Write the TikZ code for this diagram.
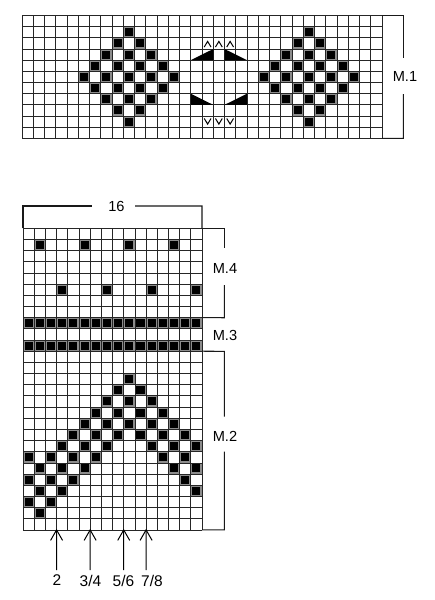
\documentclass[tikz,border=0pt]{standalone}
\usepackage{fontspec}
\setmainfont{Liberation Sans}
\begin{document}
\begin{tikzpicture}[x=1pt,y=-1pt,
  gridline/.style={line width=0.75pt, draw=black!85},
  brk/.style={line width=1.1pt, draw=black!90},
  mlabel/.style={font=\fontsize{14.6}{16}\selectfont, inner sep=0pt},
  nlabel/.style={font=\fontsize{15.5}{17}\selectfont, inner sep=0pt},
  shaft/.style={line width=1pt},
  cellring/.style={fill=black!45},
  cellcore/.style={fill=black},
  tri/.style={fill=black},
  chev/.style={line width=1pt}]
\useasboundingbox (0,0) rectangle (435,600);

% ---------- M.1 chart ----------
\begin{scope}[shift={(22,15.5)}, x=11.25pt, y=-11.17pt]
  \foreach \cz in {9,25}{
    \foreach \r in {1,...,9}{
      \pgfmathtruncatemacro\k{4-abs(\r-5)}
      \foreach \m in {0,...,\k}{
        \pgfmathtruncatemacro\c{\cz-\k+2*\m}
        \fill[cellring] (\c,\r) rectangle ++(1,1);
        \fill[cellcore] (\c+0.14,\r+0.14) rectangle (\c+0.86,\r+0.86);
      }
    }
  }
  \foreach \i in {0,...,32} \draw[gridline] (\i,0) -- (\i,11);
  \foreach \j in {0,...,11} \draw[gridline] (0,\j) -- (32,\j);
  \fill[tri] (15,4) -- (17,4) -- (17,3) -- cycle;
  \fill[tri] (18,3) -- (18,4) -- (20,4) -- cycle;
  \fill[tri] (15,7) -- (15,8) -- (17,8) -- cycle;
  \fill[tri] (20,7) -- (20,8) -- (18,8) -- cycle;
  \foreach \c in {16,17,18}{
    \draw[chev] (\c+0.2,2.82) -- (\c+0.5,2.32) -- (\c+0.8,2.82);
    \draw[chev] (\c+0.2,9.22) -- (\c+0.5,9.72) -- (\c+0.8,9.22);
  }
  \coordinate (m1top) at (32,0);
  \coordinate (m1bot) at (32,11);
\end{scope}
\coordinate (m1a) at (403.3,15.5);
\coordinate (m1b) at (403.3,58);
\coordinate (m1c) at (403.3,94);
\coordinate (m1d) at (403.3,138.4);
\draw[brk] (m1top) -- (m1a) -- (m1b);
\draw[brk] (m1c) -- (m1d) -- (m1bot);
\node[mlabel] (m1) at (405,76.5) {M.1};

% ---------- lower chart ----------
\begin{scope}[shift={(23,228.3)}, x=11.19pt, y=-11.17pt]
  \foreach \c/\r in {1/1,5/1,9/1,13/1,3/5,7/5,11/5,15/5,
      9/13,8/14,10/14,7/15,9/15,11/15,6/16,8/16,10/16,12/16,
      5/17,7/17,9/17,11/17,13/17,4/18,6/18,8/18,10/18,12/18,14/18,
      3/19,5/19,7/19,11/19,13/19,15/19,0/20,2/20,4/20,6/20,12/20,14/20,
      1/21,3/21,5/21,13/21,15/21,0/22,2/22,4/22,14/22,1/23,3/23,15/23,
      0/24,2/24,1/25}{
    \fill[cellring] (\c,\r) rectangle ++(1,1);
    \fill[cellcore] (\c+0.14,\r+0.14) rectangle (\c+0.86,\r+0.86);
  }
  \foreach \r in {8,10}{
    \foreach \c in {0,...,15}{
      \fill[cellring] (\c,\r) rectangle ++(1,1);
      \fill[cellcore] (\c+0.14,\r+0.14) rectangle (\c+0.86,\r+0.86);
    }
  }
  \foreach \i in {0,...,16} \draw[gridline] (\i,0) -- (\i,27);
  \foreach \j in {0,...,27} \draw[gridline] (0,\j) -- (16,\j);
  \coordinate (gtl) at (0,0);
  \coordinate (gtr) at (16,0);
  \coordinate (g8) at (16,8);
  \coordinate (g11) at (16,11);
  \coordinate (gbr) at (16,27);
  \coordinate (t2) at (3,27);
  \coordinate (t34) at (6,27);
  \coordinate (t56) at (9,27);
  \coordinate (t78) at (11,27);
\end{scope}

% 16 bracket
\node[mlabel] (n16) at (116.5,206) {16};
\coordinate (s1) at (23,206);
\coordinate (s2) at (92,206);
\coordinate (s3) at (135,206);
\coordinate (s4) at (202,206);
\draw[brk] (gtl) -- (s1) -- (s2);
\draw[brk] (s3) -- (s4) -- (gtr);

% M.4 / M.3 / M.2 brackets
\coordinate (b0) at (224.3,228.3);
\coordinate (b1) at (224.3,248.3);
\coordinate (b2) at (224.3,285);
\coordinate (b3) at (224.3,317.7);
\coordinate (b4) at (224.3,351.4);
\coordinate (b5) at (224.3,416.7);
\coordinate (b6) at (224.3,451.7);
\coordinate (b7) at (224.3,529.9);
\draw[brk] (gtr) -- (b0) -- (b1);
\draw[brk] (b2) -- (b3) -- (g8);
\draw[brk] (g11) -- (b4) -- (b5);
\draw[brk] (b6) -- (b7) -- (gbr);
\node[mlabel] (m4) at (225,268) {M.4};
\node[mlabel] (m3) at (225,335) {M.3};
\node[mlabel] (m2) at (225,436) {M.2};

% arrows
\node[nlabel] (l2) at (57,580.5) {2};
\node[nlabel] (l34) at (90.5,580.5) {3/4};
\node[nlabel] (l56) at (123.5,580.5) {5/6};
\node[nlabel] (l78) at (152,580.5) {7/8};
\coordinate (f2) at (56.6,570);
\coordinate (f34) at (90.1,570);
\coordinate (f56) at (123.7,570);
\coordinate (f78) at (146.1,570);
\foreach \t/\f in {t2/f2,t34/f34,t56/f56,t78/f78}{
  \draw[shaft] (\f) -- (\t);
  \draw[shaft, line join=miter] ([shift={(-6,10.5)}]\t) -- (\t) -- ([shift={(6,10.5)}]\t);
}
\end{tikzpicture}
\end{document}
